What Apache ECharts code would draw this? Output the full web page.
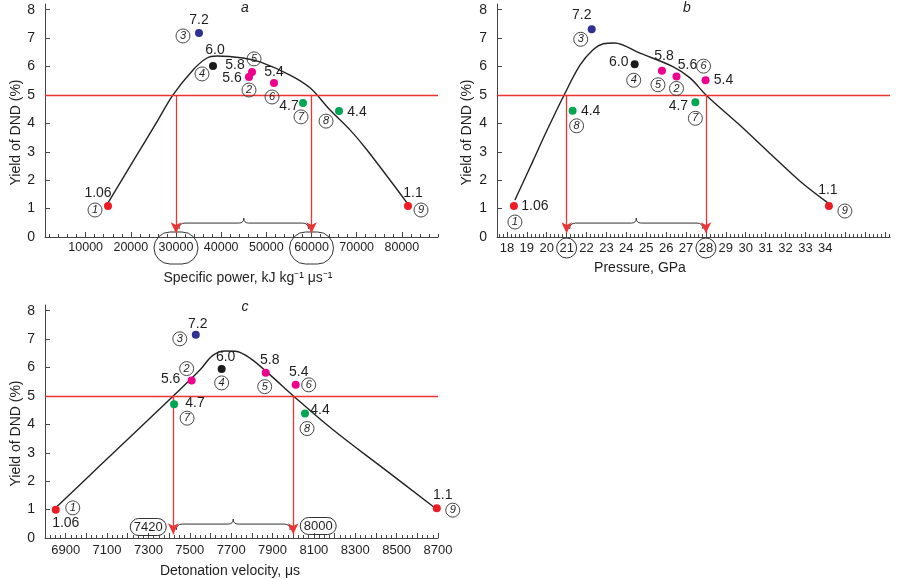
<!DOCTYPE html>
<html><head><meta charset="utf-8">
<script src="https://cdn.jsdelivr.net/npm/echarts@6/dist/echarts.min.js"></script>
<style>html,body{margin:0;padding:0;background:#fff}#chart{width:900px;height:579px}</style>
</head><body><div id="chart"></div>
<script>
// ---------------- data ----------------
const yieldTicks = [0, 1, 2, 3, 4, 5, 6, 7, 8];
const threshold = 5;
const pointNumbers = ['1', '2', '3', '4', '5', '6', '7', '8', '9'];
const pointValueText = ['1.06', '5.6', '7.2', '6.0', '5.8', '5.4', '4.7', '4.4', '1.1'];
const pointGroup = ['red', 'magenta', 'blue', 'black', 'magenta', 'magenta', 'green', 'green', 'red'];

// panel a : specific power
const powerX = [14950, 46160, 35090, 38190, 46830, 51700, 58120, 66090, 81360];
const powerY = [1.09, 5.63, 7.18, 6.02, 5.81, 5.42, 4.72, 4.43, 1.09];
const powerCurveX = [14950, 20480, 25800, 29340, 33770, 36860, 39080, 44830, 48600, 55240, 59670, 64100, 68520, 72290, 81140];
const powerCurveY = [1.2, 2.66, 4.06, 5.0, 5.88, 6.3, 6.37, 6.3, 6.16, 5.7, 5.25, 4.47, 3.77, 3.06, 1.2];
const powerArrows = [30000, 60000];
const powerTickLabels = [10000, 20000, 30000, 40000, 50000, 60000, 70000, 80000];

// panel b : pressure
const pressureX = [18.35, 26.52, 22.26, 24.42, 25.79, 27.98, 27.47, 21.30, 34.18];
const pressureY = [1.09, 5.65, 7.31, 6.08, 5.85, 5.52, 4.74, 4.44, 1.09];
const pressureCurveX = [18.40, 19.31, 19.99, 20.91, 21.67, 22.34, 22.84, 23.40, 24.68, 26.36, 27.20, 28.00, 29.60, 31.10, 32.70, 34.13];
const pressureCurveY = [1.30, 2.68, 3.72, 5.05, 6.05, 6.60, 6.80, 6.83, 6.47, 5.99, 5.60, 5.00, 4.00, 3.02, 1.98, 1.20];
const pressureArrows = [21, 28];
const pressureTickLabels = [18, 19, 20, 21, 22, 23, 24, 25, 26, 27, 28, 29, 30, 31, 32, 33, 34];

// panel c : detonation velocity
const velocityX = [6852, 7509, 7529, 7654, 7867, 8012, 7424, 8057, 8694];
const velocityY = [0.99, 5.54, 7.15, 5.95, 5.82, 5.39, 4.71, 4.38, 1.05];
const velocityCurveX = [6857, 7066, 7227, 7420, 7550, 7610, 7670, 7720, 7791, 7888, 8001, 8194, 8436, 8678];
const velocityCurveY = [1.1, 2.55, 3.66, 5.0, 5.92, 6.42, 6.58, 6.57, 6.33, 5.74, 5.0, 3.8, 2.45, 1.1];
const velocityArrows = [7420, 8000];
const velocityTickLabels = [6900, 7100, 7300, 7500, 7700, 7900, 8100, 8300, 8500, 8700];

const braceLevel = 0.49;

// ---------------- layout / style ----------------
const FONT = 'Liberation Sans, Arial, Helvetica, sans-serif';
const groupColors = { red: '#ed1c24', magenta: '#ec008c', blue: '#2e3192', black: '#1a1a1a', green: '#00a651' };
const RED = '#ee3333';
const AXIS = '#444';
const TEXT = '#1e1e1e';

function steps(a, b, s) { const out = []; for (let v = a; v <= b + s * 1e-6; v += s) out.push(Math.round(v * 1000) / 1000); return out; }

const panels = [
  {
    title: 'a', titlePos: [245, 8],
    grid: { left: 45, top: 4, width: 393, height: 233 },
    xMin: 1000, xMax: 88000,
    majorTicks: steps(10000, 80000, 10000), minorTicks: steps(2000, 88000, 2000),
    tickLabels: powerTickLabels, circled: powerArrows, circleStyle: 'ellipse', tickFont: 12.5, labelMargin: 11,
    xName: 'Specific power, kJ kg\u207B\u00B9 \u03BCs\u207B\u00B9', xNameGap: 34, xNamePad: [0, 0, 0, 13],
    yNameGap: 21,
    xs: powerX, ys: powerY, cx: powerCurveX, cy: powerCurveY, arrows: powerArrows,
    valOff: [[-10, -13], [-17, 1], [0, -13], [2, -16], [-17, -7], [0, -11], [-14, 3], [18, 1], [5, -13]],
    numOff: [[-13, 4], [0, 13], [-16, 3], [-11, 8], [2, -13], [-2, 14], [-2, 14], [-13, 10], [13, 4]]
  },
  {
    title: 'b', titlePos: [687, 8],
    grid: { left: 497, top: 4, width: 393, height: 233 },
    xMin: 17.5, xMax: 37.25,
    majorTicks: steps(18, 37, 1), minorTicks: steps(17.6, 37.2, 0.2),
    tickLabels: pressureTickLabels, circled: pressureArrows, circleStyle: 'circle', tickFont: 13, labelMargin: 11,
    xName: 'Pressure, GPa', xNameGap: 24, xNamePad: [0, 107, 0, 0],
    yNameGap: 23,
    xs: pressureX, ys: pressureY, cx: pressureCurveX, cy: pressureCurveY, arrows: pressureArrows,
    valOff: [[21, 0], [11, -11], [-10, -14], [-16, -2], [2, -15], [18, 0], [-17, 4], [18, 0], [-1, -16]],
    numOff: [[1, 16], [0, 12], [-11, 10], [-1, 16], [-4, 14], [-2, -14], [0, 16], [4, 15], [16, 5]]
  },
  {
    title: 'c', titlePos: [245, 307],
    grid: { left: 45, top: 305, width: 393, height: 233 },
    xMin: 6800, xMax: 8700,
    majorTicks: steps(6800, 8700, 100), minorTicks: steps(6800, 8700, 25),
    tickLabels: velocityTickLabels, circled: [], circleStyle: 'none', tickFont: 13, labelMargin: 12,
    xName: 'Detonation velocity, \u03BCs', xNameGap: 26, xNamePad: [0, 23, 0, 0],
    yNameGap: 21,
    xs: velocityX, ys: velocityY, cx: velocityCurveX, cy: velocityCurveY, arrows: velocityArrows,
    arrowNotes: true, noteOff: [[-25, -11], [25, -12]],
    valOff: [[10, 13], [-21, -1], [2, -11], [4, -12], [4, -12], [3, -13], [21, -1], [15, -3], [6, -13]],
    numOff: [[17, -2], [-5, -12], [-16, 4], [0, 14], [-1, 14], [13, 0], [13, 14], [2, 15], [16, 2]]
  }
];

const option = {
  backgroundColor: '#fff',
  animation: false,
  textStyle: { fontFamily: FONT },
  grid: [], xAxis: [], yAxis: [], series: [], graphic: []
};

panels.forEach((p, i) => {
  option.grid.push(p.grid);
  option.graphic.push({
    type: 'text', x: p.titlePos[0], y: p.titlePos[1],
    style: { text: p.title, font: 'italic 14px ' + FONT, fill: TEXT, align: 'center', verticalAlign: 'middle' }
  });
  const circ = p.circled;
  option.xAxis.push({
    gridIndex: i, type: 'value', min: p.xMin, max: p.xMax, position: 'bottom',
    axisLine: { show: true, lineStyle: { color: AXIS, width: 1 } },
    axisTick: { show: true, inside: true, length: 5, customValues: p.majorTicks, lineStyle: { color: AXIS, width: 1 } },
    axisLabel: {
      customValues: p.tickLabels, fontSize: p.tickFont, color: TEXT, margin: p.labelMargin, verticalAlign: 'middle',
      formatter: v => circ.indexOf(v) >= 0 ? (p.circleStyle === 'ellipse' ? '{e|' + v + '}' : '{c|' + v + '}') : String(v),
      rich: {
        e: { fontSize: p.tickFont, color: TEXT, width: 44, height: 32, align: 'center', borderColor: '#333', borderWidth: 1, borderRadius: 18 },
        c: { fontSize: p.tickFont, color: TEXT, width: 20, height: 20, align: 'center', borderColor: '#333', borderWidth: 1, borderRadius: 10 }
      }
    },
    splitLine: { show: false },
    name: p.xName, nameLocation: 'middle', nameGap: p.xNameGap,
    nameTextStyle: { fontSize: 14, color: TEXT, padding: p.xNamePad }
  });
  option.xAxis.push({
    gridIndex: i, type: 'value', min: p.xMin, max: p.xMax, position: 'bottom',
    axisLine: { show: false },
    axisTick: { show: true, inside: true, length: 3, customValues: p.minorTicks, lineStyle: { color: AXIS, width: 1 } },
    axisLabel: { show: false }, splitLine: { show: false }
  });
  option.yAxis.push({
    gridIndex: i, type: 'value', min: 0, max: 8.2,
    axisLine: { show: true, lineStyle: { color: AXIS, width: 1 } },
    axisTick: { show: true, inside: true, length: 5, customValues: yieldTicks, lineStyle: { color: AXIS } },
    axisLabel: { customValues: yieldTicks, fontSize: 14, color: TEXT, margin: 10 },
    splitLine: { show: false },
    name: 'Yield of DND (%)', nameLocation: 'middle', nameGap: p.yNameGap,
    nameTextStyle: { fontSize: 14, color: TEXT, padding: [0, 24, 0, 0] }
  });
  const xi = i * 2, yi = i;

  const markData = [{ yAxis: threshold }];
  p.arrows.forEach(a => {
    markData.push([{ coord: [a, threshold], symbol: 'none' }, { coord: [a, 0.13], symbol: 'arrow', symbolSize: [8, 11] }]);
  });

  option.series.push({
    type: 'line', xAxisIndex: xi, yAxisIndex: yi,
    data: p.cx.map((x, k) => [x, p.cy[k]]),
    smooth: 0.35, symbol: 'none', z: 2,
    lineStyle: { color: '#222', width: 1.4 },
    markLine: {
      silent: true, symbol: ['none', 'none'], label: { show: false },
      lineStyle: { color: RED, width: 1.3, type: 'solid', opacity: 1 },
      emphasis: { disabled: true },
      data: markData
    }
  });

  option.series.push({
    type: 'custom', xAxisIndex: xi, yAxisIndex: yi, silent: true, z: 3,
    data: [[p.arrows[0], p.arrows[1], braceLevel]],
    renderItem: (params, api) => {
      const p1 = api.coord([api.value(0), api.value(2)]);
      const p2 = api.coord([api.value(1), api.value(2)]);
      const y = p1[1], x1 = p1[0] + 3, x2 = p2[0] - 3, m = (x1 + x2) / 2;
      const d = 'M' + x1 + ' ' + (y + 6) + ' Q' + x1 + ' ' + y + ' ' + (x1 + 6) + ' ' + y +
        ' L' + (m - 5) + ' ' + y + ' Q' + m + ' ' + y + ' ' + m + ' ' + (y - 5) +
        ' Q' + m + ' ' + y + ' ' + (m + 5) + ' ' + y + ' L' + (x2 - 6) + ' ' + y +
        ' Q' + x2 + ' ' + y + ' ' + x2 + ' ' + (y + 6);
      return { type: 'path', shape: { pathData: d }, style: { stroke: '#333', fill: 'none', lineWidth: 1 } };
    }
  });

  option.series.push({
    type: 'scatter', xAxisIndex: xi, yAxisIndex: yi, symbolSize: 8, z: 5,
    data: p.xs.map((x, k) => ({
      value: [x, p.ys[k]],
      itemStyle: { color: groupColors[pointGroup[k]], opacity: 1 },
      label: { offset: p.valOff[k], formatter: pointValueText[k] }
    })),
    itemStyle: { opacity: 1 },
    label: { show: true, position: 'inside', color: TEXT, fontSize: 14, textBorderWidth: 0, align: 'center', verticalAlign: 'middle' },
    emphasis: { disabled: true }
  });

  option.series.push({
    type: 'scatter', xAxisIndex: xi, yAxisIndex: yi, symbolSize: 1, z: 6,
    itemStyle: { color: 'rgba(0,0,0,0)', opacity: 1 },
    data: p.xs.map((x, k) => ({
      value: [x, p.ys[k]],
      label: { offset: p.numOff[k], formatter: '{n|' + pointNumbers[k] + '}' }
    })),
    label: {
      show: true, position: 'inside', textBorderWidth: 0, align: 'center', verticalAlign: 'middle',
      rich: { n: { fontSize: 11, fontStyle: 'italic', color: TEXT, width: 14, height: 14, align: 'center', borderColor: '#333', borderWidth: 0.9, borderRadius: 7 } }
    },
    emphasis: { disabled: true }
  });

  if (p.arrowNotes) {
    option.series.push({
      type: 'scatter', xAxisIndex: xi, yAxisIndex: yi, symbolSize: 1, z: 6,
      itemStyle: { color: 'rgba(0,0,0,0)', opacity: 1 },
      data: p.arrows.map((a, k) => ({ value: [a, 0], label: { offset: p.noteOff[k], formatter: '{b|' + a + '}' } })),
      label: {
        show: true, position: 'inside', textBorderWidth: 0, align: 'center', verticalAlign: 'middle',
        rich: { b: { fontSize: 13, color: TEXT, width: 36, height: 17, align: 'center', borderColor: '#333', borderWidth: 1, borderRadius: 9 } }
      },
      emphasis: { disabled: true }
    });
  }
});

const chart = echarts.init(document.getElementById('chart'), null, { renderer: 'canvas' });
chart.setOption(option);
</script>
</body></html>
